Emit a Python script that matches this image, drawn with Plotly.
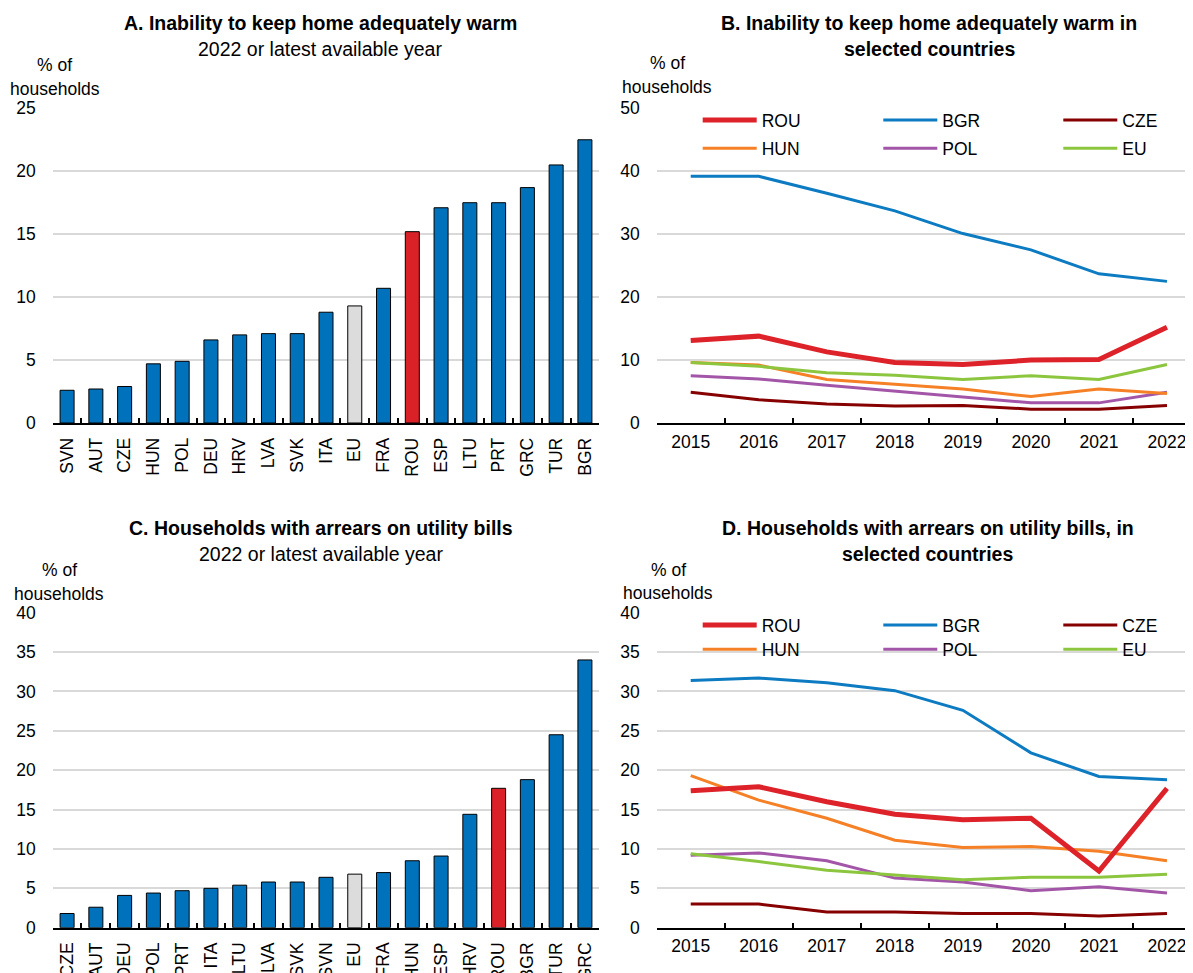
import plotly.graph_objects as go

W, H = 1193, 973
OFF = 8  # page body margin: figure is drawn 8 px right/down of the viewport origin

# ---------------- data ----------------
countries_warm = ["SVN", "AUT", "CZE", "HUN", "POL", "DEU", "HRV", "LVA", "SVK", "ITA",
                  "EU", "FRA", "ROU", "ESP", "LTU", "PRT", "GRC", "TUR", "BGR"]
values_warm = [2.6, 2.7, 2.9, 4.7, 4.9, 6.6, 7.0, 7.1, 7.1, 8.8,
               9.3, 10.7, 15.2, 17.1, 17.5, 17.5, 18.7, 20.5, 22.5]

countries_arrears = ["CZE", "AUT", "DEU", "POL", "PRT", "ITA", "LTU", "LVA", "SVK", "SVN",
                     "EU", "FRA", "HUN", "ESP", "HRV", "ROU", "BGR", "TUR", "GRC"]
values_arrears = [1.8, 2.6, 4.1, 4.4, 4.7, 5.0, 5.4, 5.8, 5.8, 6.4,
                  6.8, 7.0, 8.5, 9.1, 14.4, 17.7, 18.8, 24.5, 34.0]

years = ["2015", "2016", "2017", "2018", "2019", "2020", "2021", "2022"]

warm_rou = [13.1, 13.8, 11.3, 9.6, 9.3, 10.0, 10.1, 15.2]
warm_bgr = [39.2, 39.2, 36.5, 33.7, 30.1, 27.5, 23.7, 22.5]
warm_cze = [4.9, 3.7, 3.0, 2.7, 2.8, 2.2, 2.2, 2.8]
warm_hun = [9.6, 9.2, 6.9, 6.1, 5.4, 4.2, 5.4, 4.7]
warm_pol = [7.5, 7.0, 6.0, 5.1, 4.2, 3.2, 3.2, 4.9]
warm_eu = [9.6, 9.0, 8.0, 7.6, 6.9, 7.5, 6.9, 9.3]

arrears_rou = [17.4, 17.9, 16.0, 14.4, 13.7, 13.9, 7.2, 17.7]
arrears_bgr = [31.4, 31.7, 31.1, 30.1, 27.6, 22.2, 19.2, 18.8]
arrears_cze = [3.0, 3.0, 2.0, 2.0, 1.8, 1.8, 1.5, 1.8]
arrears_hun = [19.3, 16.2, 13.9, 11.1, 10.2, 10.3, 9.7, 8.5]
arrears_pol = [9.2, 9.5, 8.5, 6.3, 5.8, 4.7, 5.2, 4.4]
arrears_eu = [9.4, 8.4, 7.3, 6.7, 6.1, 6.4, 6.4, 6.8]

# ---------------- styles ----------------
FONT = "Liberation Sans, Arial, sans-serif"
BLUE_BAR = "#0072BB"
RED = "#DA2128"
GREY_BAR = "#DCDCDC"
GRID = "#D9D9D9"
SMALL = 17.5
TITLE = 19.5

series_colors = {"ROU": "#DD2229", "BGR": "#0D7BC1", "CZE": "#870000",
                 "HUN": "#F68026", "POL": "#A356A8", "EU": "#8CC63F"}
series_widths = {"ROU": 5, "BGR": 3, "CZE": 3, "HUN": 3, "POL": 3, "EU": 3}


def px(x):
    return (x - OFF) / W


def py(y):
    return 1 - (y - OFF) / H


def bar_colors(cats):
    return [RED if c == "ROU" else GREY_BAR if c == "EU" else BLUE_BAR for c in cats]


fig = go.Figure()

# Panel A bars
fig.add_trace(go.Bar(x=countries_warm, y=values_warm, xaxis="x", yaxis="y",
                     marker=dict(color=bar_colors(countries_warm), line=dict(color="black", width=1)),
                     showlegend=False))
# Panel C bars
fig.add_trace(go.Bar(x=countries_arrears, y=values_arrears, xaxis="x3", yaxis="y3",
                     marker=dict(color=bar_colors(countries_arrears), line=dict(color="black", width=1)),
                     showlegend=False))

warm_series = [("ROU", warm_rou), ("BGR", warm_bgr), ("CZE", warm_cze),
               ("HUN", warm_hun), ("POL", warm_pol), ("EU", warm_eu)]
arrears_series = [("ROU", arrears_rou), ("BGR", arrears_bgr), ("CZE", arrears_cze),
                  ("HUN", arrears_hun), ("POL", arrears_pol), ("EU", arrears_eu)]

# legend key grid: (column, row)
legend_cell = {"ROU": (0, 0), "BGR": (1, 0), "CZE": (2, 0),
               "HUN": (0, 1), "POL": (1, 1), "EU": (2, 1)}
legend_cols_px = [697.7, 878.3, 1058.3]
legend_rows_px = {"B": [120, 148.3], "D": [625, 649.3]}

# draw order: thin lines first, ROU on top
draw_order = ["CZE", "POL", "HUN", "EU", "BGR", "ROU"]

legend_layouts = {}
leg_counter = [0]


def new_legend(xp, yp):
    leg_counter[0] += 1
    key = "legend" if leg_counter[0] == 1 else "legend%d" % leg_counter[0]
    legend_layouts[key] = dict(
        orientation="v", xanchor="left", yanchor="middle", x=px(xp), y=py(yp),
        font=dict(size=SMALL, color="black", family=FONT), itemwidth=54,
        bgcolor="rgba(0,0,0,0)", borderwidth=0, itemclick=False, itemdoubleclick=False)
    return key


for series, xa, ya, panel in [(warm_series, "x2", "y2", "B"),
                              (arrears_series, "x4", "y4", "D")]:
    d = dict(series)
    for name in draw_order:
        col, row = legend_cell[name]
        leg = new_legend(legend_cols_px[col], legend_rows_px[panel][row])
        fig.add_trace(go.Scatter(
            x=years, y=d[name], mode="lines", name=name, xaxis=xa, yaxis=ya,
            line=dict(color=series_colors[name], width=series_widths[name]),
            legend=leg))

bar_x = dict(type="category", range=[-0.5, 18.5], tickson="boundaries", ticks="inside",
             ticklen=5, tickwidth=1.5, tickcolor="black", showline=True, linecolor="black",
             linewidth=1.5, tickangle=-90, showgrid=False, ticklabelstandoff=6,
             tickfont=dict(size=SMALL, color="black"), fixedrange=True, automargin=False)
line_x = dict(type="category", range=[-0.5, 7.5], tickson="boundaries", ticks="inside",
              ticklen=5, tickwidth=1.5, tickcolor="black", showline=True, linecolor="black",
              linewidth=1.5, tickangle=0, showgrid=False, ticklabelstandoff=2,
              tickfont=dict(size=SMALL, color="black"), fixedrange=True, automargin=False)
base_y = dict(showgrid=True, gridcolor=GRID, gridwidth=2, zeroline=False, ticks="",
              showline=False, ticklabelstandoff=16, tickfont=dict(size=SMALL, color="black"),
              fixedrange=True, automargin=False)

top_dom = [py(423), py(108.3)]
bot_dom = [py(927.7), py(612.7)]
left_dom = [px(52.7), px(599.3)]
right_dom = [px(656.7), 1.0]

fig.update_layout(
    width=W, height=H, margin=dict(l=0, r=0, t=0, b=0, pad=0), autosize=False,
    paper_bgcolor="white", plot_bgcolor="white",
    font=dict(family=FONT, color="black", size=SMALL),
    bargap=0.513,
    xaxis=dict(domain=left_dom, anchor="y", **bar_x),
    yaxis=dict(domain=top_dom, anchor="x", range=[0, 25], dtick=5, **base_y),
    xaxis2=dict(domain=right_dom, anchor="y2", **line_x),
    yaxis2=dict(domain=top_dom, anchor="x2", range=[0, 50], dtick=10, **base_y),
    xaxis3=dict(domain=left_dom, anchor="y3", **bar_x),
    yaxis3=dict(domain=bot_dom, anchor="x3", range=[0, 40], dtick=5, **base_y),
    xaxis4=dict(domain=right_dom, anchor="y4", **line_x),
    yaxis4=dict(domain=bot_dom, anchor="x4", range=[0, 40], dtick=5, **base_y),
    showlegend=True,
    **legend_layouts,
)

texts = [
    ("<b>A. Inability to keep home adequately warm</b>", 320, 22.5, TITLE),
    ("2022 or latest available year", 320, 49, TITLE),
    ("<b>B. Inability to keep home adequately warm in</b>", 929, 22.5, TITLE),
    ("<b>selected countries</b>", 929, 49, TITLE),
    ("<b>C. Households with arrears on utility bills</b>", 320.6, 527.5, TITLE),
    ("2022 or latest available year", 320.6, 554, TITLE),
    ("<b>D. Households with arrears on utility bills, in</b>", 928, 528, TITLE),
    ("<b>selected countries</b>", 928, 554, TITLE),
    ("% of", 54.5, 65, SMALL),
    ("households", 54.5, 89.3, SMALL),
    ("% of", 667, 63.3, SMALL),
    ("households", 667, 86.7, SMALL),
    ("% of", 59, 570, SMALL),
    ("households", 59, 594.3, SMALL),
    ("% of", 668, 570, SMALL),
    ("households", 668, 593.3, SMALL),
]
for t, x, y, s in texts:
    fig.add_annotation(text=t, x=px(x), y=py(y), xref="paper", yref="paper",
                       xanchor="center", yanchor="middle", showarrow=False,
                       font=dict(size=s, color="black", family=FONT))

fig.write_html("out.html")
